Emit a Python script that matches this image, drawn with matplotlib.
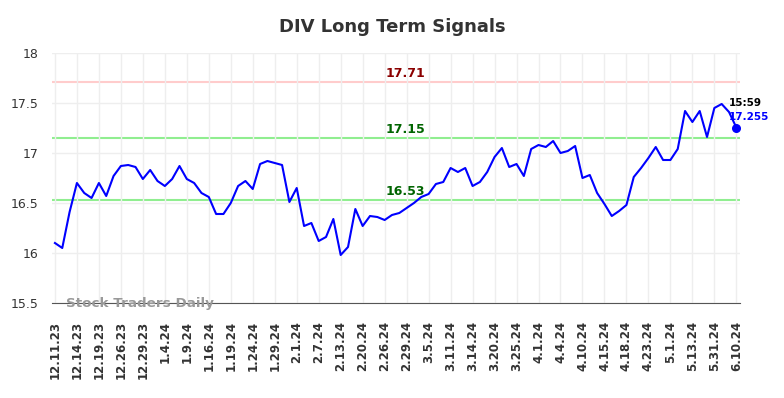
import matplotlib
matplotlib.use("Agg")
import matplotlib.pyplot as plt

# DIV daily closes
prices = [
    16.10, 16.05, 16.41, 16.70, 16.60, 16.55, 16.70, 16.57, 16.77, 16.87,
    16.88, 16.86, 16.74, 16.83, 16.72, 16.67, 16.74, 16.87, 16.74, 16.70,
    16.60, 16.56, 16.39, 16.39, 16.50, 16.67, 16.72, 16.64, 16.89, 16.92,
    16.90, 16.88, 16.51, 16.65, 16.27, 16.30, 16.12, 16.16, 16.34, 15.98,
    16.06, 16.44, 16.27, 16.37, 16.36, 16.33, 16.38, 16.40, 16.45, 16.50,
    16.56, 16.59, 16.69, 16.71, 16.85, 16.81, 16.85, 16.67, 16.71, 16.81,
    16.96, 17.05, 16.86, 16.89, 16.77, 17.04, 17.08, 17.06, 17.12, 17.00,
    17.02, 17.07, 16.75, 16.78, 16.60, 16.49, 16.37, 16.42, 16.48, 16.76,
    16.85, 16.95, 17.06, 16.93, 16.93, 17.04, 17.42, 17.31, 17.42, 17.16,
    17.45, 17.49, 17.41, 17.255,
]
tick_labels = [
    "12.11.23", "12.14.23", "12.19.23", "12.26.23", "12.29.23", "1.4.24",
    "1.9.24", "1.16.24", "1.19.24", "1.24.24", "1.29.24", "2.1.24",
    "2.7.24", "2.13.24", "2.20.24", "2.26.24", "2.29.24", "3.5.24",
    "3.11.24", "3.14.24", "3.20.24", "3.25.24", "4.1.24", "4.4.24",
    "4.10.24", "4.15.24", "4.18.24", "4.23.24", "5.1.24", "5.13.24",
    "5.31.24", "6.10.24",
]
resistance = 17.71
mid_level = 17.15
support = 16.53
last_time = "15:59"

x = list(range(len(prices)))
tick_pos = x[::3]

fig = plt.figure(figsize=(7.84, 3.98), dpi=100)
ax = fig.add_axes([52 / 784, 1 - 303 / 398, 688 / 784, 250 / 398])

ax.axhline(resistance, color="#ffcccc", lw=1.5, zorder=1)
ax.axhline(mid_level, color="#90ee90", lw=1.5, zorder=1)
ax.axhline(support, color="#90ee90", lw=1.5, zorder=1)

ax.plot(x, prices, color="#0000ff", lw=1.5, zorder=3)
ax.scatter([x[-1]], [prices[-1]], color="#0000ff", s=30, zorder=4)

mid_x = 47.8
ax.text(mid_x, resistance + 0.02, f"{resistance:.2f}", color="#8b0000",
        fontsize=9, fontweight="bold", ha="center", va="bottom")
ax.text(mid_x, mid_level + 0.02, f"{mid_level:.2f}", color="#006400",
        fontsize=9, fontweight="bold", ha="center", va="bottom")
ax.text(mid_x, support + 0.02, f"{support:.2f}", color="#006400",
        fontsize=9, fontweight="bold", ha="center", va="bottom")

ax.text(x[-1] - 1, prices[-1] + 0.2, last_time, color="black",
        fontsize=7.5, fontweight="bold", ha="left", va="bottom")
ax.text(x[-1] - 1, prices[-1] + 0.06, f"{prices[-1]:.3f}", color="#0000ff",
        fontsize=7.5, fontweight="bold", ha="left", va="bottom")

ax.text(1.5, 15.5, "Stock Traders Daily", color="#999999", fontsize=9.7,
        fontweight="bold", ha="left", va="center", zorder=5)

ax.set_xlim(-0.4, len(prices) - 1 + 0.5)
ax.set_ylim(15.5, 18)
ax.set_yticks([15.5, 16, 16.5, 17, 17.5, 18])
ax.set_yticklabels(["15.5", "16", "16.5", "17", "17.5", "18"])
ax.set_xticks(tick_pos)
ax.set_xticklabels(tick_labels, rotation=90, fontweight="bold")

ax.grid(True, color="#eeeeee", lw=1, zorder=0)
for s in ["top", "right", "left"]:
    ax.spines[s].set_visible(False)
ax.spines["bottom"].set_color("#555555")
ax.tick_params(axis="both", length=0, colors="#333333", labelsize=9)
ax.tick_params(axis="x", pad=13, labelsize=8.5)
ax.tick_params(axis="y", pad=10)

fig.suptitle("DIV Long Term Signals", fontsize=13, fontweight="bold",
             color="#333333", y=0.955)

fig.savefig("out.png", dpi=100)
